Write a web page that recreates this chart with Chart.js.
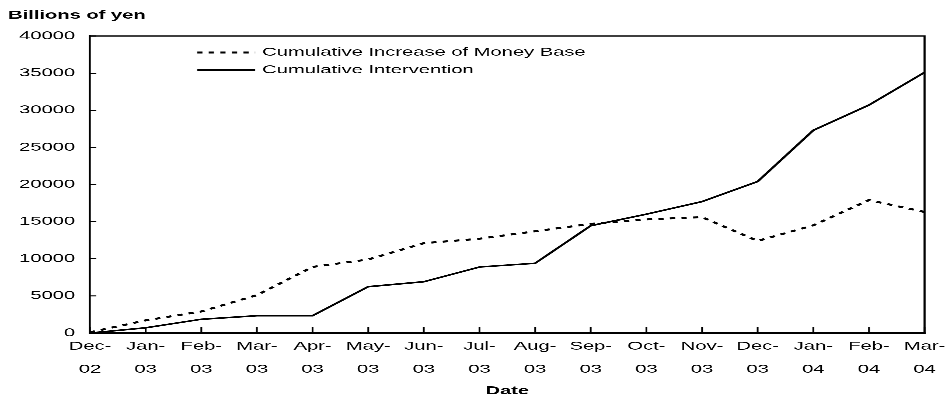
<!DOCTYPE html>
<html>
<head>
<meta charset="utf-8">
<script src="https://cdn.jsdelivr.net/npm/chart.js@4/dist/chart.umd.min.js"></script>
<style>
  html, body { margin: 0; padding: 0; background: #fff; overflow: hidden; }
  /* the original picture is stretched sideways, so the chart is drawn narrow and widened */
  #wrap { position: relative; width: 541.714px; height: 400px; transform: scaleX(1.75); transform-origin: 0 0; }
</style>
</head>
<body>
<div id="wrap"><canvas id="myChart"></canvas></div>
<script>
// месяцы и годы для подписей оси x
const months = ['Dec', 'Jan', 'Feb', 'Mar', 'Apr', 'May', 'Jun', 'Jul', 'Aug', 'Sep', 'Oct', 'Nov', 'Dec', 'Jan', 'Feb', 'Mar'];
const years = ['02', '03', '03', '03', '03', '03', '03', '03', '03', '03', '03', '03', '03', '04', '04', '04'];

// billions of yen
const moneyBase = [100, 1700, 2900, 5100, 8900, 9900, 12100, 12700, 13700, 14700, 15300, 15600, 12400, 14500, 17900, 16300];
const intervention = [0, 700, 1850, 2330, 2330, 6240, 6910, 8890, 9390, 14450, 16000, 17700, 20400, 27300, 30700, 35100];

const yTicks = [0, 5000, 10000, 15000, 20000, 25000, 30000, 35000, 40000];

const labels = months.map((m, i) => [m + '-', years[i]]);
const FONT = 'Liberation Sans, Arial, sans-serif';

/* рамка графика и короткие засечки внутрь */
const framePlugin = {
      id: 'frame',
      afterDraw(chart) {
            const { ctx, chartArea: a, scales } = chart;
            ctx.save();
            ctx.strokeStyle = '#000';
            ctx.lineWidth = 1.2;
            ctx.beginPath();
            ctx.moveTo(a.left, a.top);
            ctx.lineTo(a.right, a.top);
            ctx.lineTo(a.right, a.bottom);
            ctx.stroke();

            ctx.lineWidth = 1;
            ctx.beginPath();
            scales.x.ticks.forEach((t, i) => {
                  const x = scales.x.getPixelForTick(i);
                  ctx.moveTo(x, a.bottom);
                  ctx.lineTo(x, a.bottom - 6);
            });
            scales.y.ticks.forEach((t, i) => {
                  const y = scales.y.getPixelForTick(i);
                  ctx.moveTo(a.left, y);
                  ctx.lineTo(a.left + 3.5, y);
            });
            ctx.stroke();

            // подпись единиц над осью y
            ctx.fillStyle = '#000';
            ctx.font = 'bold 11.5px ' + FONT;
            ctx.textAlign = 'left';
            ctx.textBaseline = 'alphabetic';
            ctx.fillText('Billions of yen', 4.6, 18.5);

            // легенда внутри области графика
            const rows = [52.5, 70];
            chart.data.datasets.forEach((ds, i) => {
                  const y = rows[i];
                  ctx.strokeStyle = ds.borderColor;
                  ctx.lineWidth = ds.borderWidth;
                  ctx.setLineDash(ds.borderDash || []);
                  ctx.beginPath();
                  ctx.moveTo(112.6, y);
                  ctx.lineTo(145.7, y);
                  ctx.stroke();
                  ctx.setLineDash([]);
                  ctx.font = '11.5px ' + FONT;
                  ctx.textBaseline = 'middle';
                  ctx.fillText(ds.label, 149.7, y);
            });
            ctx.restore();
      }
};

const chart = new Chart(document.getElementById('myChart'), {
      type: 'line',
      data: {
            labels: labels,
            datasets: [{
                  label: 'Cumulative Increase of Money Base',
                  data: moneyBase,
                  borderColor: '#000',
                  borderWidth: 2,
                  borderDash: [3, 3.6],
                  pointRadius: 0,
                  tension: 0,
                  fill: false
            }, {
                  label: 'Cumulative Intervention',
                  data: intervention,
                  borderColor: '#000',
                  borderWidth: 1.6,
                  pointRadius: 0,
                  tension: 0,
                  fill: false
            }]
      },
      options: {
            responsive: true,
            maintainAspectRatio: false,
            devicePixelRatio: 3,
            animation: false,
            layout: { padding: { left: 0, right: 13.7, top: 36, bottom: 0 } },
            plugins: {
                  legend: { display: false },
                  tooltip: { enabled: false }
            },
            scales: {
                  x: {
                        offset: false,
                        grid: { display: true, drawOnChartArea: false, drawTicks: false },
                        border: { display: true, color: '#000', width: 1.5 },
                        ticks: {
                              autoSkip: false,
                              maxRotation: 0,
                              padding: 2,
                              color: '#000',
                              font: { family: FONT, size: 11.5, lineHeight: 2 }
                        },
                        title: {
                              display: true,
                              text: 'Date',
                              color: '#000',
                              font: { family: FONT, size: 11.5, weight: 'bold', lineHeight: 1.2 },
                              padding: { top: 0, bottom: 2 }
                        },
                        afterFit(scale) {
                              scale.height = 67;
                              scale.paddingLeft = 0;
                              scale.paddingRight = 0;
                        }
                  },
                  y: {
                        min: 0,
                        max: 40000,
                        grid: { display: true, drawOnChartArea: false, drawTicks: false },
                        border: { display: true, color: '#000', width: 1.2 },
                        afterBuildTicks(scale) { scale.ticks = yTicks.map(v => ({ value: v })); },
                        ticks: {
                              padding: 8.5,
                              color: '#000',
                              font: { family: FONT, size: 11.5 },
                              callback: v => String(v)
                        },
                        afterFit(scale) { scale.width = 51.4; }
                  }
            }
      },
      plugins: [framePlugin]
});
</script>
</body>
</html>
